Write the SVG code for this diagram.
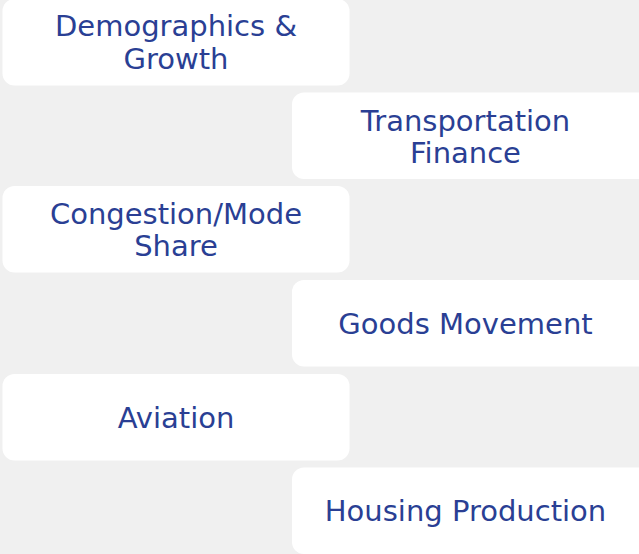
<svg xmlns="http://www.w3.org/2000/svg" width="639" height="554" viewBox="0 0 639 554">
<style>
.box{fill:#ffffff;}
.t{font-family:"DejaVu Sans","Liberation Sans",sans-serif;font-size:29px;fill:#2a3f94;text-anchor:middle;}
</style>
<rect x="0" y="0" width="639" height="554" fill="#f0f0f0"/>
<g id="n1"><rect class="box" x="2.5" y="-1" width="347" height="86.5" rx="12"/><text class="t" x="176" y="36">Demographics &amp;</text><text class="t" x="176" y="68.5">Growth</text></g>
<g id="n2"><rect class="box" x="292" y="92.5" width="360" height="86.5" rx="12"/><text class="t" x="465.5" y="131">Transportation</text><text class="t" x="465.5" y="162.5">Finance</text></g>
<g id="n3"><rect class="box" x="2.5" y="186" width="347" height="86.5" rx="12"/><text class="t" x="176" y="223.5">Congestion/Mode</text><text class="t" x="176" y="256">Share</text></g>
<g id="n4"><rect class="box" x="292" y="280" width="360" height="86.5" rx="12"/><text class="t" x="465.5" y="333.5">Goods Movement</text></g>
<g id="n5"><rect class="box" x="2.5" y="374" width="347" height="86.5" rx="12"/><text class="t" x="176" y="427.5">Aviation</text></g>
<g id="n6"><rect class="box" x="292" y="467.5" width="360" height="86.5" rx="12"/><text class="t" x="465.5" y="521">Housing Production</text></g>
<g id="connectors"></g>
</svg>
